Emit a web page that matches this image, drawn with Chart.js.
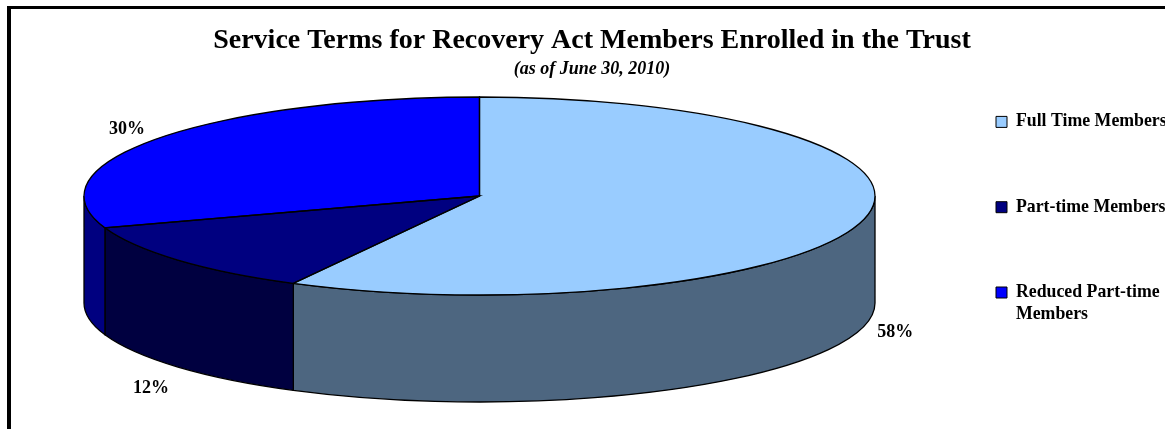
<!DOCTYPE html>
<html>
<head>
<meta charset="utf-8">
<title>Service Terms for Recovery Act Members</title>
<script src="https://cdn.jsdelivr.net/npm/chart.js@4"></script>
<style>
    html, body { margin: 0; padding: 0; background: #fff; overflow: hidden; }
    #frame {
        position: absolute; left: 7px; top: 6px; width: 1162px; height: 420px;
        border-left: 4px solid #000; border-top: 3px solid #000;
    }
</style>
</head>
<body>
<div id="frame"><canvas id="chart"></canvas></div>
<script>
const categories = ['Full Time Members', 'Part-time Members', ['Reduced Part-time', 'Members']];
const shares = [57.8, 12, 30.2];
const shareLabels = ['58%', '12%', '30%'];
const topColors = ['#99ccff', '#000080', '#0000ff'];
const sideColors = ['#4d6680', '#000040', '#000080'];

const serif = '"Liberation Serif", "Times New Roman", serif';

// flattened disc, in canvas pixels
const disc = { cx: 468.5, cy: 187, rx: 395.5, ry: 99, depth: 107 };
const labelOffsets = [[32, 5], [-27, 21], [-31, -9]];
const legendPadding = 67.5;
const edgeWidth = 1.3;

const pie3d = {
    id: 'pie3d',
    afterLayout(chart) {
        // the legend adds its padding to left and top when it draws
        const lg = chart.legend;
        lg.left = 985 - legendPadding;
        lg.right = 1200;
        lg.top = 104 - legendPadding;
        lg.bottom = 420;
    },
    beforeDatasetsDraw(chart) {
        const ctx = chart.ctx;
        const arcs = chart.getDatasetMeta(0).data;
        // side wall, only the part of each slice facing the viewer
        arcs.forEach((arc, i) => {
            const a = Math.max(arc.startAngle, 0);
            const b = Math.min(arc.endAngle, Math.PI);
            if (b <= a) return;
            ctx.beginPath();
            ctx.ellipse(disc.cx, disc.cy, disc.rx, disc.ry, 0, a, b);
            ctx.ellipse(disc.cx, disc.cy + disc.depth, disc.rx, disc.ry, 0, b, a, true);
            ctx.closePath();
            ctx.fillStyle = sideColors[i];
            ctx.fill();
            ctx.strokeStyle = '#000';
            ctx.lineWidth = edgeWidth;
            ctx.stroke();
        });
        const r = arcs[0].outerRadius;
        ctx.save();
        ctx.translate(disc.cx, disc.cy);
        ctx.scale(disc.rx / r, disc.ry / r);
        ctx.translate(-arcs[0].x, -arcs[0].y);
    },
    afterDatasetsDraw(chart) {
        const ctx = chart.ctx;
        ctx.restore();
        const arcs = chart.getDatasetMeta(0).data;
        arcs.forEach((arc) => {
            ctx.beginPath();
            ctx.moveTo(disc.cx, disc.cy);
            ctx.ellipse(disc.cx, disc.cy, disc.rx, disc.ry, 0, arc.startAngle, arc.endAngle);
            ctx.closePath();
            ctx.strokeStyle = '#000';
            ctx.lineWidth = edgeWidth;
            ctx.stroke();
        });
        ctx.font = 'bold 18px ' + serif;
        ctx.fillStyle = '#000';
        ctx.textAlign = 'center';
        ctx.textBaseline = 'middle';
        arcs.forEach((arc, i) => {
            const mid = (arc.startAngle + arc.endAngle) / 2;
            const x = disc.cx + disc.rx * Math.cos(mid);
            let y = disc.cy + disc.ry * Math.sin(mid);
            if (Math.sin(mid) > 0) y += disc.depth;
            ctx.fillText(shareLabels[i], x + labelOffsets[i][0], y + labelOffsets[i][1]);
        });
    }
};

new Chart(document.getElementById('chart'), {
    type: 'pie',
    data: {
        labels: categories,
        datasets: [{
            data: shares,
            backgroundColor: topColors,
            borderWidth: 0,
            clip: false
        }]
    },
    options: {
        responsive: true,
        maintainAspectRatio: false,
        animation: false,
        events: [],
        plugins: {
            title: {
                display: true,
                text: 'Service Terms for Recovery Act Members Enrolled in the Trust',
                color: '#000',
                font: { family: serif, size: 28, weight: 'bold', lineHeight: 1 },
                padding: { top: 18, bottom: 5.5 }
            },
            subtitle: {
                display: true,
                text: '(as of June 30, 2010)',
                color: '#000',
                font: { family: serif, size: 18, weight: 'bold', style: 'italic', lineHeight: 1 },
                padding: { top: 0, bottom: 0 }
            },
            legend: {
                position: 'right',
                align: 'start',
                labels: {
                    color: '#000',
                    font: { family: serif, size: 17.8, weight: 'bold', lineHeight: 1.25 },
                    boxWidth: 11,
                    boxHeight: 11,
                    padding: legendPadding,
                    generateLabels(chart) {
                        const items = Chart.overrides.pie.plugins.legend.labels.generateLabels(chart);
                        items.forEach((it) => { it.strokeStyle = '#000'; it.lineWidth = 1; });
                        return items;
                    }
                }
            },
            tooltip: { enabled: false }
        }
    },
    plugins: [pie3d]
});
</script>
</body>
</html>
